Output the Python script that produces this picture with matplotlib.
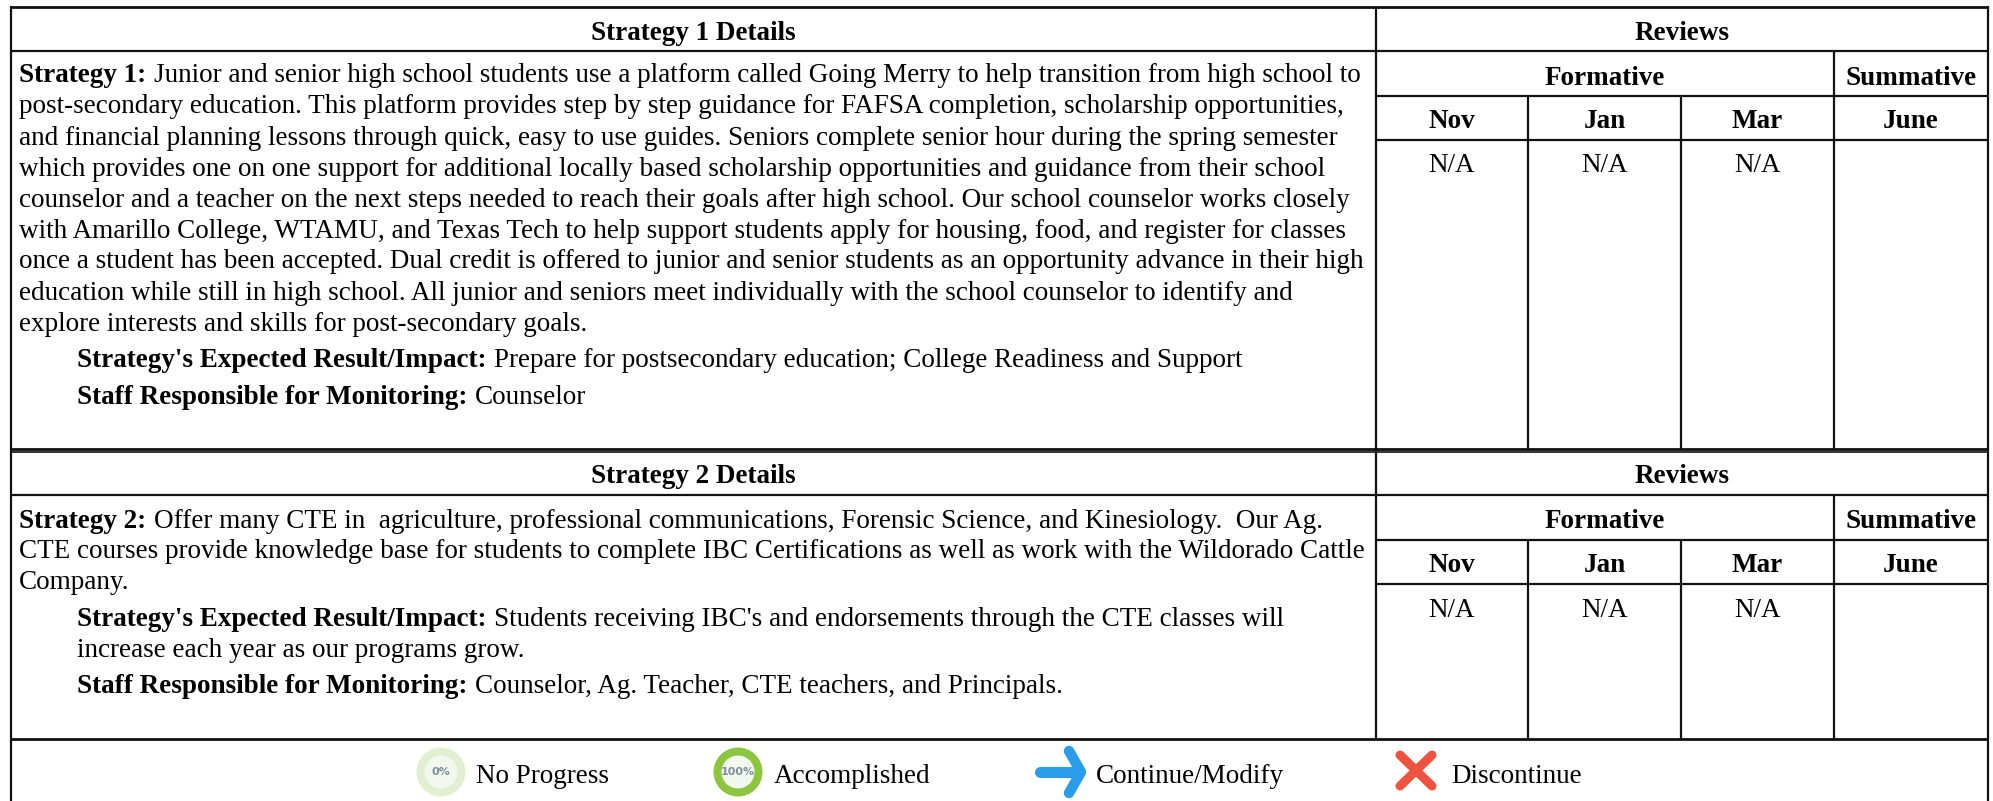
import matplotlib
matplotlib.use("Agg")
import matplotlib.pyplot as plt
from matplotlib.patches import Circle

plt.rcParams['font.family'] = ['Liberation Serif', 'DejaVu Serif']
W, H = 1993, 801
FS = 19.5

section_titles = ["Strategy 1 Details", "Strategy 2 Details"]
review_title = "Reviews"
review_groups = ["Formative", "Summative"]
months = ["Nov", "Jan", "Mar", "June"]
month_values = ["N/A", "N/A", "N/A", ""]

s1_lines = [
    ("Strategy 1:", "Junior and senior high school students use a platform called Going Merry to help transition from high school to"),
    ("", "post-secondary education. This platform provides step by step guidance for FAFSA completion, scholarship opportunities,"),
    ("", "and financial planning lessons through quick, easy to use guides. Seniors complete senior hour during the spring semester"),
    ("", "which provides one on one support for additional locally based scholarship opportunities and guidance from their school"),
    ("", "counselor and a teacher on the next steps needed to reach their goals after high school. Our school counselor works closely"),
    ("", "with Amarillo College, WTAMU, and Texas Tech to help support students apply for housing, food, and register for classes"),
    ("", "once a student has been accepted. Dual credit is offered to junior and senior students as an opportunity advance in their high"),
    ("", "education while still in high school. All junior and seniors meet individually with the school counselor to identify and"),
    ("", "explore interests and skills for post-secondary goals."),
]
s1_baselines = [82, 113, 145, 176, 207, 238, 268, 300, 331]
s1_extra = [
    ("Strategy's Expected Result/Impact:", "Prepare for postsecondary education; College Readiness and Support", 367),
    ("Staff Responsible for Monitoring:", "Counselor", 404),
]
s2_lines = [
    ("Strategy 2:", "Offer many CTE in  agriculture, professional communications, Forensic Science, and Kinesiology.  Our Ag."),
    ("", "CTE courses provide knowledge base for students to complete IBC Certifications as well as work with the Wildorado Cattle"),
    ("", "Company."),
]
s2_baselines = [528, 558, 589]
s2_extra = [
    ("Strategy's Expected Result/Impact:", "Students receiving IBC's and endorsements through the CTE classes will", 626),
    ("", "increase each year as our programs grow.", 657),
    ("Staff Responsible for Monitoring:", "Counselor, Ag. Teacher, CTE teachers, and Principals.", 693),
]
legend_labels = ["No Progress", "Accomplished", "Continue/Modify", "Discontinue"]

fig = plt.figure(figsize=(W / 100, H / 100), dpi=100)
ax = fig.add_axes([0, 0, 1, 1])
ax.set_xlim(0, W)
ax.set_ylim(H, 0)
ax.axis("off")

LW = 1.6
COL = "#111111"

def hl(y, x0, x1, lw=LW):
    ax.plot([x0, x1], [y, y], color=COL, lw=lw, solid_capstyle="butt")

def vl(x, y0, y1, lw=LW):
    ax.plot([x, x], [y0, y1], color=COL, lw=lw, solid_capstyle="butt")

LEFT, RIGHT, C0, C1, C2, C3 = 11, 1988, 1376, 1528, 1681, 1834

hl(7, LEFT, RIGHT, 2.0)
vl(LEFT, 6, H)
vl(RIGHT, 6, H)
vl(C0, 7, 739)
for top, r1, r2, r3, bottom in [(7, 51, 96, 140, 449), (452, 495, 540, 584, 739)]:
    hl(r1, LEFT, RIGHT)
    hl(r2, C0, RIGHT)
    hl(r3, C0, RIGHT)
    vl(C3, r1, bottom)
    vl(C1, r2, bottom)
    vl(C2, r2, bottom)
hl(449, LEFT, RIGHT, 2.0)
hl(452, LEFT, RIGHT, 1.2)
hl(739, LEFT, RIGHT, 2.0)

fig.canvas.draw()
rend = fig.canvas.get_renderer()
GAP = 8

def mixed(x, y, bold, reg):
    if bold:
        t = ax.text(x, y, bold, fontsize=FS, fontweight="bold", va="baseline", ha="left", color="black")
        x += t.get_window_extent(rend).width + GAP
    ax.text(x, y, reg, fontsize=FS, va="baseline", ha="left", color="black")

def center(x, y, s, bold=True):
    ax.text(x, y, s, fontsize=FS, fontweight="bold" if bold else "normal", va="baseline", ha="center", color="black")

for (b, r), y in zip(s1_lines, s1_baselines):
    mixed(19, y, b, r)
for b, r, y in s1_extra:
    mixed(77, y, b, r)
for (b, r), y in zip(s2_lines, s2_baselines):
    mixed(19, y, b, r)
for b, r, y in s2_extra:
    mixed(77, y, b, r)

for title, yt, y1, y2, y3 in [(section_titles[0], 40, 85, 128, 172), (section_titles[1], 483, 528, 572, 617)]:
    center((LEFT + C0) / 2, yt, title)
    center((C0 + RIGHT) / 2, yt, review_title)
    center((C0 + C3) / 2, y1, review_groups[0])
    center((C3 + RIGHT) / 2, y1, review_groups[1])
    xs = [(C0 + C1) / 2, (C1 + C2) / 2, (C2 + C3) / 2, (C3 + RIGHT) / 2]
    for xc, m, v in zip(xs, months, month_values):
        center(xc, y2, m)
        if v:
            center(xc, y3, v, bold=False)

# legend icons
def ring(cx, cy, outer, inner, label, col):
    ax.add_patch(Circle((cx, cy), 24.5, fc=outer, ec="none"))
    ax.add_patch(Circle((cx, cy), 16.5, fc=inner, ec="none"))
    ax.text(cx, cy, label, fontsize=8, color=col, ha="center", va="center",
            family="DejaVu Sans", fontweight="bold")

ring(441, 772, "#e2eed2", "#f3f8ee", "0%", "#7d8f9c")
ring(738, 772, "#8cc63f", "#f3f8ee", "100%", "#7d8f9c")

BLUE = "#2b9de8"
ax.plot([1040, 1078], [772, 772], color=BLUE, lw=8, solid_capstyle="round")
ax.plot([1069, 1081, 1069], [751, 772, 793], color=BLUE, lw=7.5, solid_capstyle="round", solid_joinstyle="round")
RED = "#ee5340"
ax.plot([1400, 1432], [755, 786], color=RED, lw=6.5, solid_capstyle="round")
ax.plot([1432, 1400], [755, 786], color=RED, lw=6.5, solid_capstyle="round")

for x, s in zip([476, 774, 1096, 1451], legend_labels):
    ax.text(x, 783, s, fontsize=FS, va="baseline", ha="left", color="black")

fig.savefig("out.png", dpi=100)
